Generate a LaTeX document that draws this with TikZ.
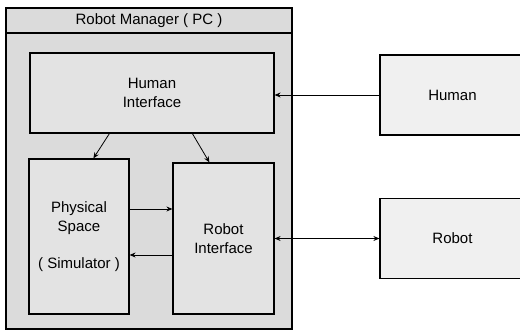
\documentclass[tikz,border=0pt]{standalone}
\usepackage{fontspec}
\setmainfont{Liberation Sans}
\usetikzlibrary{arrows.meta}
\begin{document}
\begin{tikzpicture}[x=1pt,y=-1pt,
  box/.style={draw,line width=1.2pt,fill=gray!22,align=center,inner sep=0pt,
    font=\fontsize{15}{18.5}\selectfont},
  outside/.style={box,fill=gray!12,minimum width=145pt,minimum height=80pt},
  arr/.style={-{Stealth[length=6pt,width=5pt]},line width=0.8pt},
  dblarr/.style={{Stealth[length=6pt,width=5pt]}-{Stealth[length=6pt,width=5pt]},line width=0.8pt}]
  \useasboundingbox (0,0) rectangle (520,331);
  \clip (0,0) rectangle (520,331);
  % the PC and its title bar
  \node[box,fill=gray!28,minimum width=286pt,minimum height=321pt] (pc) at (149,168.5) {};
  \node[box,fill=gray!28,minimum width=286pt,minimum height=25pt,anchor=north] (title) at (pc.north) {Robot Manager ( PC )};
  % modules inside the PC
  \node[box,minimum width=244pt,minimum height=80pt] (hi) at (152,93) {Human\\Interface};
  \node[box,minimum width=100pt,minimum height=155pt] (ps) at (79,236.5) {Physical\\Space\\[18.5pt]( Simulator )};
  \node[box,minimum width=101pt,minimum height=151pt] (ri) at (223.5,238.5) {Robot\\Interface};
  % outside world
  \node[outside] (human) at (452.5,95) {Human};
  \node[outside] (robot) at (452.5,238.5) {Robot};
  \draw[arr] ([xshift=80pt]hi.south west) -- ([xshift=65pt]ps.north west);
  \draw[arr] ([xshift=163pt]hi.south west) -- ([xshift=37pt]ri.north west);
  \draw[arr] ([yshift=27.5pt]ps.east) -- ([yshift=27.5pt]ps.east -| ri.west);
  \draw[arr] ([yshift=-16.5pt]ri.west) -- ([yshift=-16.5pt]ri.west -| ps.east);
  \draw[arr] (human.west) -- (human.west -| hi.east);
  \draw[dblarr] (robot.west) -- (ri.east);
\end{tikzpicture}
\end{document}
